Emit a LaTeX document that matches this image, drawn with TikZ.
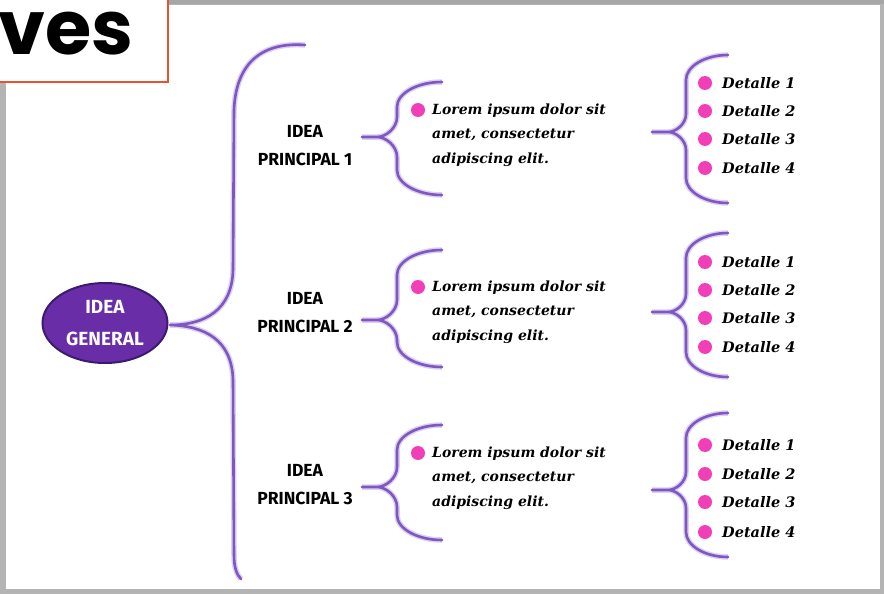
\documentclass[tikz,border=0pt]{standalone}
\usepackage{fontspec}
\setmainfont{DejaVu Serif}
\newfontfamily\titlefont{Poppins}
\newfontfamily\labelfont{Fira Sans}
\newfontfamily\handfont{DejaVu Serif}
\usetikzlibrary{shapes.geometric}
\definecolor{brc}{HTML}{7E58C0}
\definecolor{glow}{HTML}{DDD0F2}
\definecolor{dotc}{HTML}{F23FB8}
\definecolor{ellf}{HTML}{6A2DA8}
\definecolor{elld}{HTML}{3B1B6E}
\definecolor{redb}{HTML}{E8522C}
\definecolor{framec}{HTML}{B4B4B4}
\tikzset{
  bracestyle/.style={draw=brc, line width=2.6pt, line cap=round, line join=round,
    preaction={draw=glow, line width=5.5pt}},
  ideaell/.style={ellipse, fill=ellf, draw=elld, line width=2pt, minimum width=125pt,
    minimum height=80pt, inner sep=0pt, text=white, align=center,
    font=\labelfont\bfseries\fontsize{19}{32}\selectfont},
  princ/.style={align=center, inner sep=0pt, text=black,
    font=\labelfont\bfseries\fontsize{17.5}{28}\selectfont},
  lorem/.style={anchor=west, align=left, inner sep=0pt,
    font=\handfont\bfseries\itshape\fontsize{14}{24.5}\selectfont},
  det/.style={anchor=west, inner sep=0pt,
    font=\handfont\bfseries\itshape\fontsize{14.5}{16}\selectfont},
  pdot/.style={circle, fill=dotc, minimum size=14pt, inner sep=0pt},
}
% #1 vx, #2 top y, #3 bottom y, #4 cusp y, #5 top end x, #6 bottom end x, #7 cusp x, #8 arm radius, #9 cusp radius
\newcommand\mybrace[9]{%
  \draw[bracestyle] ({#5},{#2}) .. controls ({#1+0.45*(#5-#1)},{#2}) and ({#1},{#2+0.45*#8}) .. ({#1},{#2+#8})
    -- ({#1},{#4-#9}) .. controls ({#1},{#4-0.45*#9}) and ({#1-0.55*#9},{#4}) .. ({#1-#9},{#4})
    -- ({#7},{#4}) -- ({#1-#9},{#4})
    .. controls ({#1-0.55*#9},{#4}) and ({#1},{#4+0.45*#9}) .. ({#1},{#4+#9})
    -- ({#1},{#3-#8}) .. controls ({#1},{#3-0.45*#8}) and ({#1+0.45*(#6-#1)},{#3}) .. ({#6},{#3});}
\begin{document}
\begin{tikzpicture}[x=1pt, y=-1pt]
\useasboundingbox (0,0) rectangle (884,594);
% frame
\fill[framec] (0,0) rectangle (884,594);
\fill[white] (6,5) rectangle (880,589);
\fill[black!35] (0,0) rectangle (884,4);
% title box
\fill[white, draw=redb, line width=2.5pt] (-5,-5) rectangle (168,82);
\node[anchor=base east, inner sep=0pt] (title) at (134,55) {\titlefont\bfseries\fontsize{75}{75}\selectfont ves};
% main brace
\draw[bracestyle] (305,45) .. controls (265,42) and (236,60) .. (234,110) -- (233,270)
  .. controls (232,310) and (205,325) .. (170,325)
  .. controls (205,326) and (232,340) .. (233,380) -- (234,555)
  .. controls (234,568) and (237,575) .. (241,579);
\node[ideaell] (gen) at (105,323) {IDEA\\GENERAL};
% principal labels
\node[princ] (p1) at (305,146) {IDEA\\PRINCIPAL 1};
\node[princ] (p2) at (305,313) {IDEA\\PRINCIPAL 2};
\node[princ] (p3) at (305,485) {IDEA\\PRINCIPAL 3};
% middle braces
\mybrace{397}{82}{195}{137}{442}{442}{362}{25}{20}
\mybrace{397}{250}{367}{320}{442}{442}{362}{25}{20}
\mybrace{397}{425}{540}{487}{442}{442}{362}{25}{20}
% lorem blocks
\node[pdot] (d1) at (418,110) {};
\node[lorem] (l1) at (432,135) {Lorem ipsum dolor sit\\amet, consectetur\\adipiscing elit.};
\node[pdot] (d2) at (418,287) {};
\node[lorem] (l2) at (432,312) {Lorem ipsum dolor sit\\amet, consectetur\\adipiscing elit.};
\node[pdot] (d3) at (418,453) {};
\node[lorem] (l3) at (432,478) {Lorem ipsum dolor sit\\amet, consectetur\\adipiscing elit.};
% right braces
\mybrace{686}{55}{203}{132}{728}{728}{652}{25}{18}
\mybrace{686}{233}{377}{312}{728}{728}{652}{25}{18}
\mybrace{686}{413}{557}{490}{728}{728}{652}{25}{18}
% details
\foreach \g/\ya/\yb/\yc/\yd in {1/83/111/139/168, 2/262/290/318/347, 3/445/474/502/532}{
  \node[pdot] (a\g) at (705,\ya) {};
  \node[det] (t\g a) at (722,\ya) {Detalle 1};
  \node[pdot] (b\g) at (705,\yb) {};
  \node[det] (t\g b) at (722,\yb) {Detalle 2};
  \node[pdot] (c\g) at (705,\yc) {};
  \node[det] (t\g c) at (722,\yc) {Detalle 3};
  \node[pdot] (e\g) at (705,\yd) {};
  \node[det] (t\g d) at (722,\yd) {Detalle 4};
}
\end{tikzpicture}
\end{document}
